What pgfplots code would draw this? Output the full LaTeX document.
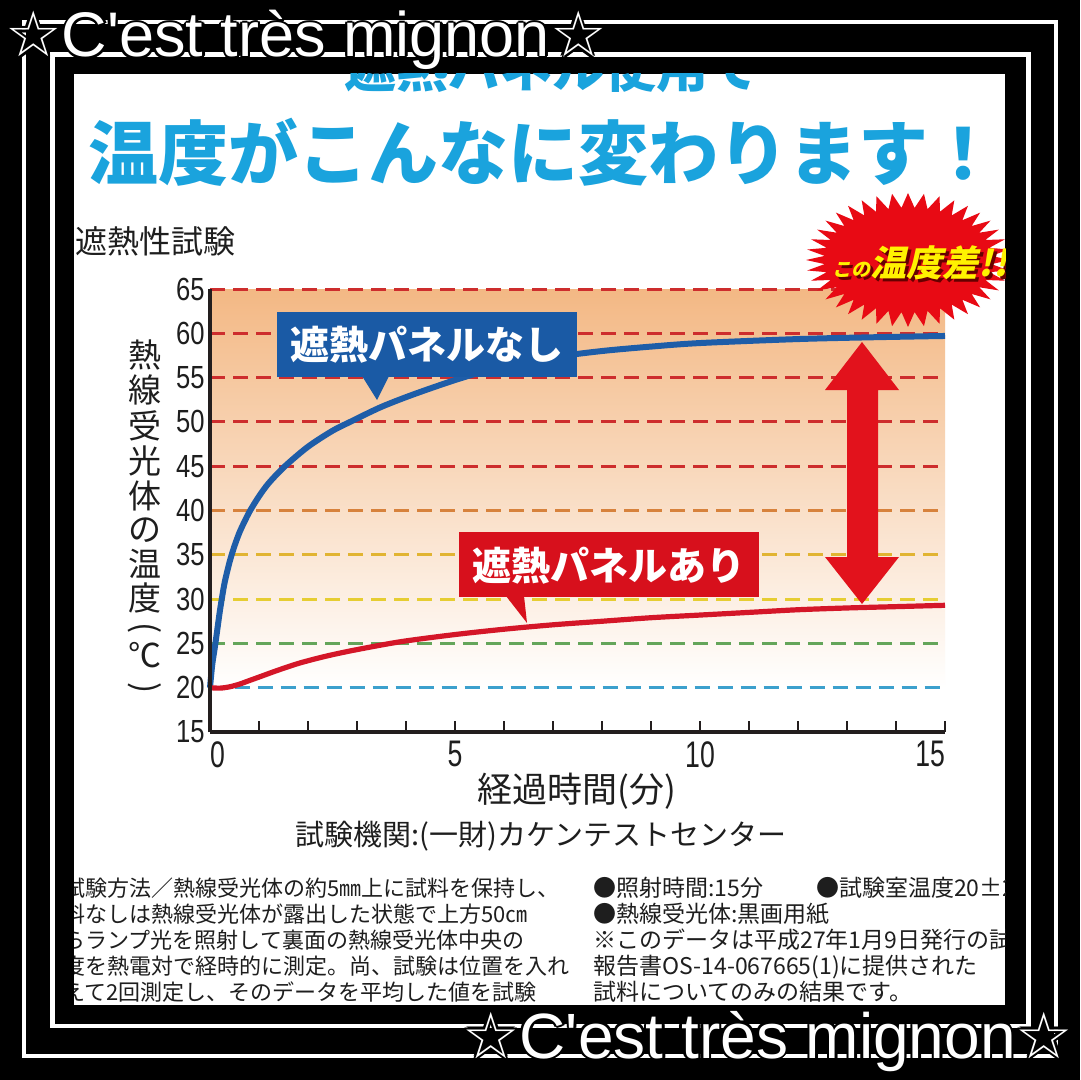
\documentclass[border=0pt]{standalone}
\usepackage{fontspec}
\usepackage{pgfplots}
\pgfplotsset{compat=1.18}
\setmainfont{Noto Sans CJK JP}
\newfontfamily\jp{Noto Sans CJK JP}
\newfontfamily\num{Liberation Sans}[FakeStretch=0.8]
\newfontfamily\numx{Liberation Sans}[FakeStretch=0.72]
\newfontfamily\lat{Liberation Sans}
\newfontfamily\sym{DejaVu Sans}
\newcommand\fs[1]{\fontsize{#1}{#1}\selectfont}

\definecolor{ttl}{RGB}{26,163,221}
\definecolor{bl}{RGB}{30,93,168}
\definecolor{rd}{RGB}{212,22,40}
\definecolor{boxb}{RGB}{26,90,165}
\definecolor{boxr}{RGB}{215,16,28}
\definecolor{arr}{RGB}{226,18,28}
\definecolor{star}{RGB}{232,10,20}
\definecolor{bgtop}{RGB}{243,184,132}
\definecolor{axc}{RGB}{35,30,30}
\definecolor{txt}{RGB}{30,30,30}
\definecolor{g65}{RGB}{205,45,45}
\definecolor{g40}{RGB}{215,130,60}
\definecolor{g35}{RGB}{225,180,50}
\definecolor{g30}{RGB}{230,205,50}
\definecolor{g25}{RGB}{100,165,90}
\definecolor{g20}{RGB}{60,160,205}

\newcommand\migtext{{\sym ☆}C'est très mignon{\sym ☆}}

\begin{document}
\begin{tikzpicture}[
  gl/.style={line width=1.5pt, dash pattern=on 7.5pt off 4pt},
  mig/.style={anchor=base west, inner sep=0pt, font=\lat\fs{31.5}},
  migb/.style={anchor=base west, inner sep=0pt, font=\lat\fs{32}},
  px/.style={x=0.5pt,y=-0.5pt}]
\useasboundingbox (0,0) rectangle (540pt,-540pt);

% frame and headings (pixel units, y downwards)
\begin{scope}[px]
\fill[black] (0,0) rectangle (1080,1080);
\draw[white, line width=2pt] (24,22) rectangle (1056,1056);
\draw[white, line width=2.2pt] (52.5,54.5) rectangle (1028.5,1026);
\fill[white] (74,74) rectangle (1005,1005);
\begin{scope}
\clip (74,74) rectangle (1005,1005);
\node[anchor=base, inner sep=0pt, font=\jp\bfseries\fs{26}, text=ttl] at (552,88) {遮熱パネル使用で};
\end{scope}
\node[anchor=base, inner sep=0pt, font=\jp\bfseries\fs{35}, text=ttl] at (543,180) {温度がこんなに変わります！};
\node[anchor=base west, inner sep=0pt, font=\jp\fs{16}, text=txt] at (75,254) {遮熱性試験};
\foreach \c/\yy in {熱/355,線/390,受/426,光/461,体/496,の/530,温/564,度/598,℃/655}
  \node[inner sep=0pt, font=\jp\fs{16.5}, text=txt] at (145,\yy) {\c};
\node[inner sep=0pt, font=\jp\fs{16.5}, text=txt] at (145,628) {\rotatebox{-90}{(}};
\node[inner sep=0pt, font=\jp\fs{16.5}, text=txt] at (145,688) {\rotatebox{-90}{)}};
\end{scope}

\begin{axis}[
  at={(105pt,-366pt)}, anchor=south west,
  scale only axis, width=367.5pt, height=221.5pt,
  xmin=0, xmax=15, ymin=15, ymax=65,
  axis x line*=bottom, axis y line*=left,
  axis line style={line width=1.6pt, color=axc, -},
  axis on top,
  xtick={0,5,10,15},
  xticklabels={\makebox[0pt][l]{0},5,10,\makebox[0pt][r]{15}},
  minor xtick={1,2,3,4,6,7,8,9,11,12,13,14},
  ytick={15,20,...,65},
  tick align=inside,
  major tick length=5.5pt, minor tick length=5.5pt,
  x tick style={line width=1.2pt, color=axc},
  y tick style={draw=none},
  /pgf/number format/assume math mode=true,
  xticklabel style={font=\numx\fs{18.5}, text=txt, anchor=north, inner sep=0pt, yshift=-4.5pt},
  yticklabel style={font=\num\fs{16}, text=txt, anchor=east, inner sep=0pt, xshift=-2.5pt},
  clip=false,
]
\fill[top color=bgtop, bottom color=white] (axis cs:0,20) rectangle (axis cs:15,65);
\draw[gl, g65] (axis cs:0,65) -- (axis cs:15,65);
\draw[gl, g65] (axis cs:0,60) -- (axis cs:15,60);
\draw[gl, g65] (axis cs:0,55) -- (axis cs:15,55);
\draw[gl, g65] (axis cs:0,50) -- (axis cs:15,50);
\draw[gl, g65] (axis cs:0,45) -- (axis cs:15,45);
\draw[gl, g40] (axis cs:0,40) -- (axis cs:15,40);
\draw[gl, g35] (axis cs:0,35) -- (axis cs:15,35);
\draw[gl, g30] (axis cs:0,30) -- (axis cs:15,30);
\draw[gl, g25] (axis cs:0,25) -- (axis cs:15,25);
\draw[gl, g20] (axis cs:0.5,20) -- (axis cs:15,20);

% without panel
\addplot[line width=3pt, color=bl, smooth, tension=0.5] coordinates {
 (0,20) (0.02,21.2) (0.05,22.8) (0.1,24.6) (0.15,26.6) (0.2,28.6) (0.24,30)
 (0.3,31.9) (0.4,34.2) (0.5,36.0) (0.6,37.5) (0.7,38.7) (0.82,40) (1.0,41.6)
 (1.2,43.1) (1.53,45) (2.0,47.2) (2.5,49.0) (2.86,50) (3.5,51.7) (4.2,53.2)
 (5.1,54.9) (6.0,56.3) (7.0,57.3) (8.0,58.0) (9.0,58.5) (10.0,58.9)
 (12,59.35) (13.5,59.55) (15,59.7)};
% with panel
\addplot[line width=2.6pt, color=rd, smooth, tension=0.5] coordinates {
 (0,20) (0.2,19.95) (0.4,20.1) (0.6,20.4) (0.8,20.8) (1.0,21.2) (1.4,22.0)
 (1.84,22.8) (2.4,23.6) (3.0,24.3) (3.9,25.2) (5.0,26.0) (6.0,26.6)
 (7.0,27.1) (8.0,27.5) (9.0,27.9) (10.0,28.2) (11.0,28.5) (12.0,28.8)
 (13.0,29.0) (14.0,29.15) (15,29.3)};
\end{axis}

\begin{scope}[px]
\clip (74,74) rectangle (1005,1005);
% callouts
\fill[boxb] (277,312) rectangle (577,377);
\fill[boxb] (362,376) -- (389,376) -- (377,400) -- cycle;
\node[anchor=base, inner sep=0pt, font=\jp\bfseries\fs{19.5}, text=white] at (427,359) {遮熱パネルなし};
\fill[boxr] (459,532) rectangle (759,597);
\fill[boxr] (506,596) -- (524,596) -- (527,623) -- cycle;
\node[anchor=base, inner sep=0pt, font=\jp\bfseries\fs{19.5}, text=white] at (609,580) {遮熱パネルあり};

% double arrow
\fill[arr] (862,342) -- (899,390) -- (878,390) -- (878,557) -- (899,557) -- (862,604)
  -- (825,557) -- (847,557) -- (847,390) -- (825,390) -- cycle;

% starburst
\fill[star] (1010,260) \foreach \i in {1,...,79}{
  -- ({908+(isodd(\i)?0.82:1)*102*cos(4.5*\i)},{260+(isodd(\i)?0.78:1)*67*sin(4.5*\i)}) } -- cycle;
\node[anchor=base, inner sep=0pt, font=\jp\bfseries, text=black!60!red, xslant=0.22] at (923,280)
  {\fs{9.5}この\fs{18}温度差!!};
\node[anchor=base, inner sep=0pt, font=\jp\bfseries, text=yellow, xslant=0.22] at (920,277)
  {\fs{9.5}この\fs{18}温度差!!};

% axis caption
\node[anchor=base, inner sep=0pt, font=\jp\fs{17.5}, text=txt] at (577,802) {経過時間(分)};
\node[anchor=base, inner sep=0pt, font=\jp\fs{14.5}, text=txt] at (541,845) {試験機関:(一財)カケンテストセンター};

% notes
\begin{scope}[every node/.style={anchor=base west, inner sep=0pt, font=\jp\fs{11}, text=txt}]
\node at (63,896) {試験方法／熱線受光体の約5㎜上に試料を保持し、};
\node at (63,922) {料なしは熱線受光体が露出した状態で上方50㎝};
\node at (63,948) {らランプ光を照射して裏面の熱線受光体中央の};
\node at (63,974) {度を熱電対で経時的に測定。尚、試験は位置を入れ};
\node at (63,1000) {えて2回測定し、そのデータを平均した値を試験};
\end{scope}
\begin{scope}[every node/.style={anchor=base west, inner sep=0pt, font=\jp\fs{11.5}, text=txt}]
\node at (593,896) {●照射時間:15分\hspace{2.3em}●試験室温度20±2℃};
\node at (593,922) {●熱線受光体:黒画用紙};
\node at (593,948) {※このデータは平成27年1月9日発行の試験};
\node at (593,974) {報告書OS-14-067665(1)に提供された};
\node at (593,1000) {試料についてのみの結果です。};
\end{scope}
\end{scope}

% overlay captions
\begin{scope}[px]
\foreach \dx/\dy in {-1.2/0,1.2/0,0/-1.2,0/1.2,-0.9/-0.9,0.9/0.9,-0.9/0.9,0.9/-0.9}{
  \node[mig, text=black, xshift=\dx pt, yshift=\dy pt] at (5,57) {\migtext};
  \node[migb, text=black, xshift=\dx pt, yshift=\dy pt] at (462,1058) {\migtext};
}
\node[mig, text=white] at (5,57) {\migtext};
\node[migb, text=white] at (462,1058) {\migtext};
\end{scope}
\end{tikzpicture}
\end{document}
